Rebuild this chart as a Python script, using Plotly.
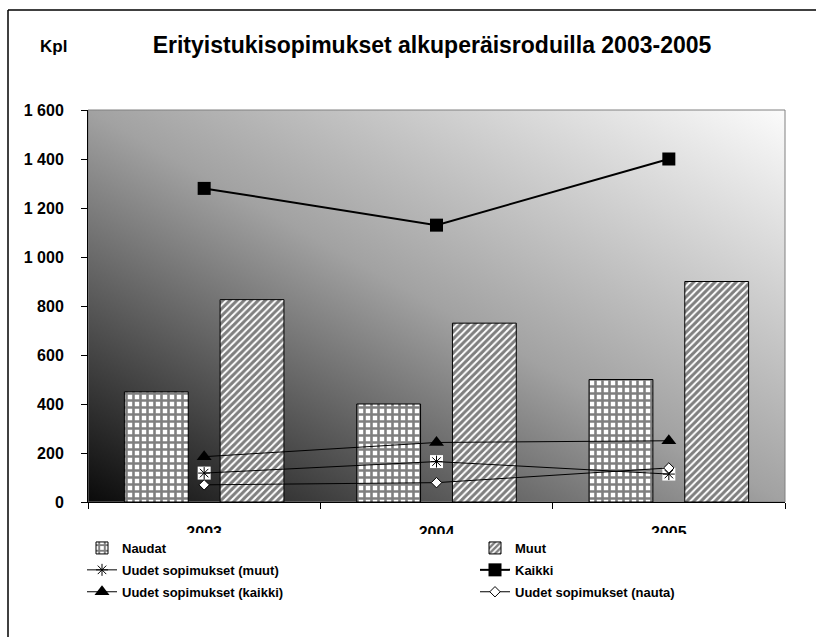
import base64
import plotly.graph_objects as go

vuodet = ["2003", "2004", "2005"]
naudat = [450, 400, 500]
muut = [826, 730, 900]
kaikki = [1280, 1130, 1400]
uudet_muut = [118, 165, 114]
uudet_kaikki = [185, 243, 250]
uudet_nauta = [70, 79, 139]

W, H = 816, 637
L, R, T, B = 88, 31, 110, 135
pw, ph = W - L - R, H - T - B


def px_x(x):
    return (x - L) / pw


def px_y(y):
    return (H - B - y) / ph


# taustan liukuväri (tumma vasemmalla alhaalla -> vaalea oikealla ylhäällä)
svg = (
    '<svg xmlns="http://www.w3.org/2000/svg" width="100" height="100" '
    'viewBox="0 0 100 100" preserveAspectRatio="none">'
    '<defs><linearGradient id="g" x1="0" y1="1" x2="1" y2="0">'
    '<stop offset="0" stop-color="#0a0a0a"/>'
    '<stop offset="0.5" stop-color="#a2a2a2"/>'
    '<stop offset="1" stop-color="#fbfbfb"/>'
    '</linearGradient></defs>'
    '<rect width="100" height="100" fill="url(#g)"/></svg>'
)
bg_src = "data:image/svg+xml;base64," + base64.b64encode(svg.encode()).decode()

FAM = "Liberation Sans, Arial"
fnt = dict(family=FAM, size=13, color="black", weight="bold")
tickfnt = dict(family=FAM, size=16, color="black", weight="bold")

fig = go.Figure()

fig.add_trace(go.Bar(
    x=vuodet, y=naudat, name="Naudat", legend="legend", legendgroup="a",
    marker=dict(color="white", line=dict(color="black", width=1),
                pattern=dict(shape="+", fgcolor="black", bgcolor="white",
                             size=7, solidity=0.6)),
))
fig.add_trace(go.Bar(
    x=vuodet, y=muut, name="Muut", legend="legend2", legendgroup="b",
    marker=dict(color="white", line=dict(color="black", width=1),
                pattern=dict(shape="/", fgcolor="black", bgcolor="white",
                             size=5, solidity=0.6)),
))

# valkoinen tausta tähtimerkeille
fig.add_trace(go.Scatter(
    x=vuodet, y=uudet_muut, mode="markers", showlegend=False, hoverinfo="skip",
    marker=dict(symbol="square", size=13, color="white", line=dict(width=0)),
))
fig.add_trace(go.Scatter(
    x=vuodet, y=uudet_muut, mode="lines+markers", name="Uudet sopimukset (muut)",
    legend="legend", legendgroup="c",
    line=dict(color="black", width=1),
    marker=dict(symbol="asterisk-open", size=10, color="black",
                line=dict(color="black", width=1)),
))
fig.add_trace(go.Scatter(
    x=vuodet, y=kaikki, mode="lines+markers", name="Kaikki",
    legend="legend2", legendgroup="d",
    line=dict(color="black", width=2),
    marker=dict(symbol="square", size=13, color="black"),
))
fig.add_trace(go.Scatter(
    x=vuodet, y=uudet_kaikki, mode="lines+markers", name="Uudet sopimukset (kaikki)",
    legend="legend", legendgroup="e",
    line=dict(color="black", width=1),
    marker=dict(symbol="triangle-up", size=13, color="black"),
))
fig.add_trace(go.Scatter(
    x=vuodet, y=uudet_nauta, mode="lines+markers", name="Uudet sopimukset (nauta)",
    legend="legend2", legendgroup="f",
    line=dict(color="black", width=1),
    marker=dict(symbol="diamond", size=8, color="white",
                line=dict(color="black", width=1)),
))

leg = dict(orientation="v", xanchor="left", yanchor="top", bgcolor="white",
           font=fnt, itemwidth=30, tracegroupgap=2)

fig.update_layout(
    width=W, height=H,
    margin=dict(l=L, r=R, t=T, b=B),
    paper_bgcolor="white",
    plot_bgcolor="rgba(0,0,0,0)",
    font=fnt,
    separators=", ",
    barmode="group",
    bargap=0.176,
    bargroupgap=0.333,
    title=dict(text="Erityistukisopimukset alkuperäisroduilla 2003-2005",
               x=432 / W, xanchor="center", y=1 - 45 / H, yanchor="middle",
               font=dict(family=FAM, size=23, color="black", weight="bold")),
    legend=dict(leg, x=px_x(82), y=px_y(533)),
    legend2=dict(leg, x=px_x(475), y=px_y(533)),
    images=[dict(source=bg_src, xref="paper", yref="paper", x=0, y=1,
                 sizex=1, sizey=1, sizing="stretch", layer="below")],
    shapes=[
        dict(type="rect", xref="paper", yref="paper", x0=0, y0=0, x1=1, y1=1,
             line=dict(color="#808080", width=1), layer="below"),
        # selitteen valkoinen pohja peittää vuosilukujen alaosan
        dict(type="rect", xref="paper", yref="paper", x0=px_x(60), y0=px_y(534),
             x1=px_x(800), y1=px_y(610), line=dict(width=0),
             fillcolor="white", layer="above"),
        dict(type="line", xref="paper", yref="paper", x0=px_x(8), y0=px_y(10),
             x1=px_x(816), y1=px_y(10), line=dict(color="black", width=1.5)),
        dict(type="line", xref="paper", yref="paper", x0=px_x(8), y0=px_y(10),
             x1=px_x(8), y1=px_y(637), line=dict(color="black", width=1.5)),
    ],
    annotations=[
        dict(text="Kpl", xref="paper", yref="paper", x=px_x(53),
             y=px_y(47), xanchor="center", yanchor="middle", showarrow=False,
             font=dict(family=FAM, size=17, color="black", weight="bold")),
    ],
    hovermode=False,
)

fig.update_xaxes(type="category", tickson="boundaries", ticks="outside",
                 ticklen=6, tickcolor="black", showline=True, linecolor="black",
                 linewidth=1, showgrid=False, tickfont=tickfnt,
                 ticklabelstandoff=16)
fig.update_yaxes(range=[0, 1600], dtick=200, tickformat=",d", ticks="outside",
                 ticklen=6, tickcolor="black", showline=True, linecolor="black",
                 linewidth=1, showgrid=False, zeroline=False, tickfont=tickfnt,
                 ticklabelstandoff=14)

fig.write_html("out.html", config={"displayModeBar": False},
               post_script="document.body.style.margin='0px';")
